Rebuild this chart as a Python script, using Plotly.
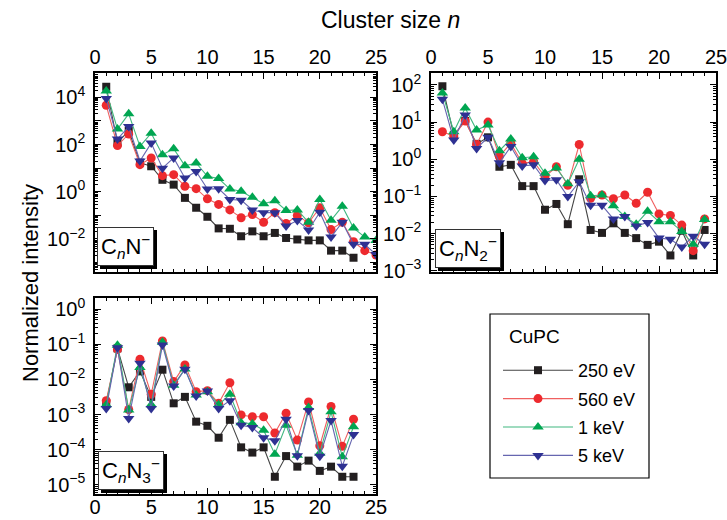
import plotly.graph_objects as go

FONT = "Liberation Sans, Arial, sans-serif"

# ---------------- data ----------------
series_names = ["250 eV", "560 eV", "1 keV", "5 keV"]

# Panel 1: CnN-
p1_n_250 = list(range(1, 24))
p1_250 = [2.8e4, 120, 380, 17, 12, 3.2, 2.0, 0.55, 0.21, 0.087, 0.028, 0.027, 0.013,
          0.021, 0.013, 0.018, 0.011, 0.0095, 0.0087, 0.0087, 0.0032, 0.0032, 0.0016]
p1_n = list(range(1, 26))
p1_560 = [4600, 90, 280, 14, 27, 4.8, 5.3, 1.7, 1.35, 0.50, 0.29, 0.17, 0.079, 0.108,
          0.051, 0.13, 0.045, 0.098, 0.048, 0.21, 0.025, 0.051, 0.0076, 0.0032, 0.0021]
p1_1k = [1.85e4, 450, 2000, 83, 300, 37, 66, 12.5, 16.5, 4.5, 3.6, 1.3, 1.05, 0.58,
         0.31, 0.42, 0.16, 0.17, 0.051, 0.47, 0.062, 0.24, 0.029, 0.012, 0.0087]
p1_5k = [9000, 170, 580, 20, 115, 10, 27, 3.8, 7.2, 1.3, 1.35, 0.47, 0.44, 0.17,
         0.13, 0.13, 0.035, 0.060, 0.024, 0.135, 0.012, 0.051, 0.0059, 0.0059, 0.0022]

# Panel 2: CnN2-
p2_n = list(range(1, 25))
p2_250 = [92, 4.5, 10.7, 2.6, 3.9, 0.63, 0.71, 0.19, 0.19, 0.044, 0.063, 0.018, 0.29,
          0.0126, 0.0105, 0.019, 0.0105, 0.0076, 0.0050, 0.0061, 0.0026, 0.012, 0.0026, 0.0126]
p2_560 = [5.5, 4.2, 10.7, 2.5, 10, 1.2, 2.7, 0.78, 0.87, 0.34, 0.63, 0.20, 2.5,
          0.089, 0.11, 0.087, 0.11, 0.066, 0.13, 0.034, 0.031, 0.017, 0.0035, 0.025]
p2_1k = [61, 5.5, 24, 6.1, 8.4, 1.7, 3.5, 1.1, 1.17, 0.42, 0.58, 0.22, 1.0,
         0.105, 0.11, 0.056, 0.029, 0.018, 0.040, 0.021, 0.021, 0.0115, 0.0052, 0.024]
p2_5k = [41, 3.3, 15.5, 1.95, 3.9, 0.81, 2.2, 0.66, 0.71, 0.27, 0.28, 0.10, 0.25,
         0.058, 0.058, 0.025, 0.029, 0.016, 0.020, 0.0076, 0.0071, 0.0044, 0.0085, 0.0052]

# Panel 3: CnN3-
p3_n = list(range(1, 24))
p3_250 = [0.0021, 0.077, 0.006, 0.017, 0.0032, 0.019, 0.0021, 0.0032, 0.00063, 0.00048,
          0.00022, 0.00071, 0.000117, 0.000083, 0.000117, 1.7e-5, 6.6e-5, 3.3e-5,
          4.9e-5, 2.5e-5, 3.3e-5, 1.7e-5, 1.7e-5]
p3_560 = [0.0025, 0.072, 0.0014, 0.038, 0.0038, 0.125, 0.0087, 0.026, 0.0045, 0.0048,
          0.0021, 0.0081, 0.00098, 0.00087, 0.00087, 0.0003, 0.0011, 0.00019, 0.0023,
          0.00013, 0.0017, 0.000125, 0.00074]
p3_1k = [0.0019, 0.095, 0.00135, 0.022, 0.0019, 0.115, 0.0069, 0.02, 0.0036, 0.0045,
         0.0019, 0.0038, 0.00059, 0.00055, 0.00036, 7.5e-5, 0.0005, 7e-5, 0.0016,
         8e-5, 0.0012, 6.3e-5, 0.00045]
p3_5k = [0.0015, 0.08, 0.00078, 0.029, 0.0015, 0.096, 0.0065, 0.0195, 0.0034, 0.0047,
         0.0015, 0.0025, 0.0005, 0.00043, 0.00022, 0.00018, 0.00074, 6.8e-5, 0.0013,
         6.5e-5, 0.00068, 3.4e-5, 0.00027]

# ---------------- styles ----------------
marker_colors = ["#231f20", "#ed2a2e", "#00a651", "#2e3192"]
line_colors = ["#444444", "#f06060", "#40b880", "#6666b0"]
symbols = ["square", "circle", "triangle-up", "triangle-down"]
msizes = [8, 9, 10, 10]

fig = go.Figure()

panels = [
    ("x", "y", [(p1_n_250, p1_250), (p1_n, p1_560), (p1_n, p1_1k), (p1_n, p1_5k)], True),
    ("x2", "y2", [(p2_n, p2_250), (p2_n, p2_560), (p2_n, p2_1k), (p2_n, p2_5k)], False),
    ("x3", "y3", [(p3_n, p3_250), (p3_n, p3_560), (p3_n, p3_1k), (p3_n, p3_5k)], False),
]

for xa, ya, sers, show in panels:
    for i, (xs, ys) in enumerate(sers):
        fig.add_trace(go.Scatter(
            x=xs, y=ys, xaxis=xa, yaxis=ya, mode="lines+markers",
            name=series_names[i], legendgroup=series_names[i], showlegend=show,
            line=dict(color=line_colors[i], width=1.1),
            marker=dict(symbol=symbols[i], size=msizes[i], color=marker_colors[i],
                        line=dict(width=0)),
        ))

TICKFONT = dict(family=FONT, size=20, color="black")


def sup(k):
    s = str(k).replace("-", "\u2212")
    return "10<sup>%s</sup>" % s


def yaxis_cfg(domain, rng, shown, anchor):
    ks = list(range(int(rng[0]) - 1, int(rng[1]) + 2))
    vals = [10.0 ** k for k in ks]
    texts = [sup(k) if k in shown else "" for k in ks]
    return dict(
        type="log", domain=domain, range=rng, anchor=anchor, automargin=False,
        tickmode="array", tickvals=vals, ticktext=texts,
        ticks="inside", ticklen=6, tickwidth=1.2, tickcolor="black",
        minor=dict(ticks="inside", ticklen=3, tickcolor="black", dtick="D1", showgrid=False),
        showline=True, linecolor="black", linewidth=1.5, mirror="allticks",
        showgrid=False, zeroline=False, ticklabelstandoff=4,
        ticklabeloverflow="allow",
        tickfont=TICKFONT,
    )


def xaxis_cfg(domain, side, anchor, standoff):
    return dict(
        domain=domain, range=[0, 25], anchor=anchor, side=side, automargin=False,
        tickmode="linear", tick0=0, dtick=5,
        ticks="inside", ticklen=6, tickwidth=1.2, tickcolor="black",
        minor=dict(ticks="inside", ticklen=3, tickcolor="black", dtick=1, showgrid=False),
        showline=True, linecolor="black", linewidth=1.5, mirror="allticks",
        showgrid=False, zeroline=False, ticklabelstandoff=standoff,
        ticklabeloverflow="allow",
        tickfont=TICKFONT,
    )


W, H = 727, 520
d1x = [95 / W, 376 / W]
d2x = [431 / W, 716 / W]
dtop = [1 - 272 / H, 1 - 73 / H]
dbot = [1 - 494 / H, 1 - 298 / H]

fig.update_layout(
    width=W, height=H,
    margin=dict(l=0, r=0, t=0, b=0, autoexpand=False),
    paper_bgcolor="white", plot_bgcolor="white",
    font=dict(family=FONT, size=19, color="black"),
    xaxis=xaxis_cfg(d1x, "top", "y", -1),
    yaxis=yaxis_cfg(dtop, [-3.4, 5.03], [4, 2, 0, -2], "x"),
    xaxis2=xaxis_cfg(d2x, "top", "y2", -1),
    yaxis2=yaxis_cfg(dtop, [-3.03, 2.32], [2, 1, 0, -1, -2, -3], "x2"),
    xaxis3=xaxis_cfg(d1x, "bottom", "y3", -6),
    yaxis3=yaxis_cfg(dbot, [-5.26, 0.32], [0, -1, -2, -3, -4, -5], "x3"),
    legend=dict(
        x=498 / W, y=1 - 352 / H, xanchor="left", yanchor="top",
        borderwidth=0, bgcolor="rgba(0,0,0,0)",
        font=dict(family=FONT, size=18), itemwidth=70,
        tracegroupgap=2,
    ),
    showlegend=True,
)

# legend frame and heading
fig.add_shape(type="rect", xref="paper", yref="paper",
              x0=490 / W, x1=649 / W, y0=1 - 478 / H, y1=1 - 314 / H,
              line=dict(color="black", width=1.2), fillcolor="rgba(0,0,0,0)", layer="below")
fig.add_annotation(text="CuPC", x=507 / W, y=1 - 336 / H, xref="paper", yref="paper",
                   xanchor="left", yanchor="middle", showarrow=False,
                   font=dict(family=FONT, size=19))

# axis titles
fig.add_annotation(text="Cluster size <i>n</i>", x=390 / W, y=1 - 20 / H,
                   xref="paper", yref="paper", showarrow=False,
                   xanchor="center", yanchor="middle",
                   font=dict(family=FONT, size=23))
fig.add_annotation(text="Normalized intensity", x=30 / W, y=1 - 283 / H,
                   xref="paper", yref="paper", showarrow=False, textangle=-90,
                   xanchor="center", yanchor="middle",
                   font=dict(family=FONT, size=22))

# panel labels with drop shadow
labels = [
    ("C<sub><i>n</i></sub>N<sup>\u2212</sup>", "x domain", "y domain", 0.008, 0.03),
    ("C<sub><i>n</i></sub>N<sub>2</sub><sup>\u2212</sup>", "x2 domain", "y2 domain", 0.014, 0.02),
    ("C<sub><i>n</i></sub>N<sub>3</sub><sup>\u2212</sup>", "x3 domain", "y3 domain", 0.01, 0.02),
]
for txt, xr, yr, xx, yy in labels:
    fig.add_annotation(text=txt, xref=xr, yref=yr, x=xx, y=yy, xanchor="left", yanchor="bottom",
                       showarrow=False, xshift=3, yshift=-3, bgcolor="black",
                       bordercolor="black", borderwidth=1, borderpad=3,
                       font=dict(family=FONT, size=22, color="black"))
    fig.add_annotation(text=txt, xref=xr, yref=yr, x=xx, y=yy, xanchor="left", yanchor="bottom",
                       showarrow=False, bgcolor="white",
                       bordercolor="#333333", borderwidth=1, borderpad=3,
                       font=dict(family=FONT, size=22, color="black"))

fig.write_html("out.html", config={"displayModeBar": False},
               post_script="document.body.style.margin='0';document.body.style.overflow='hidden';")
